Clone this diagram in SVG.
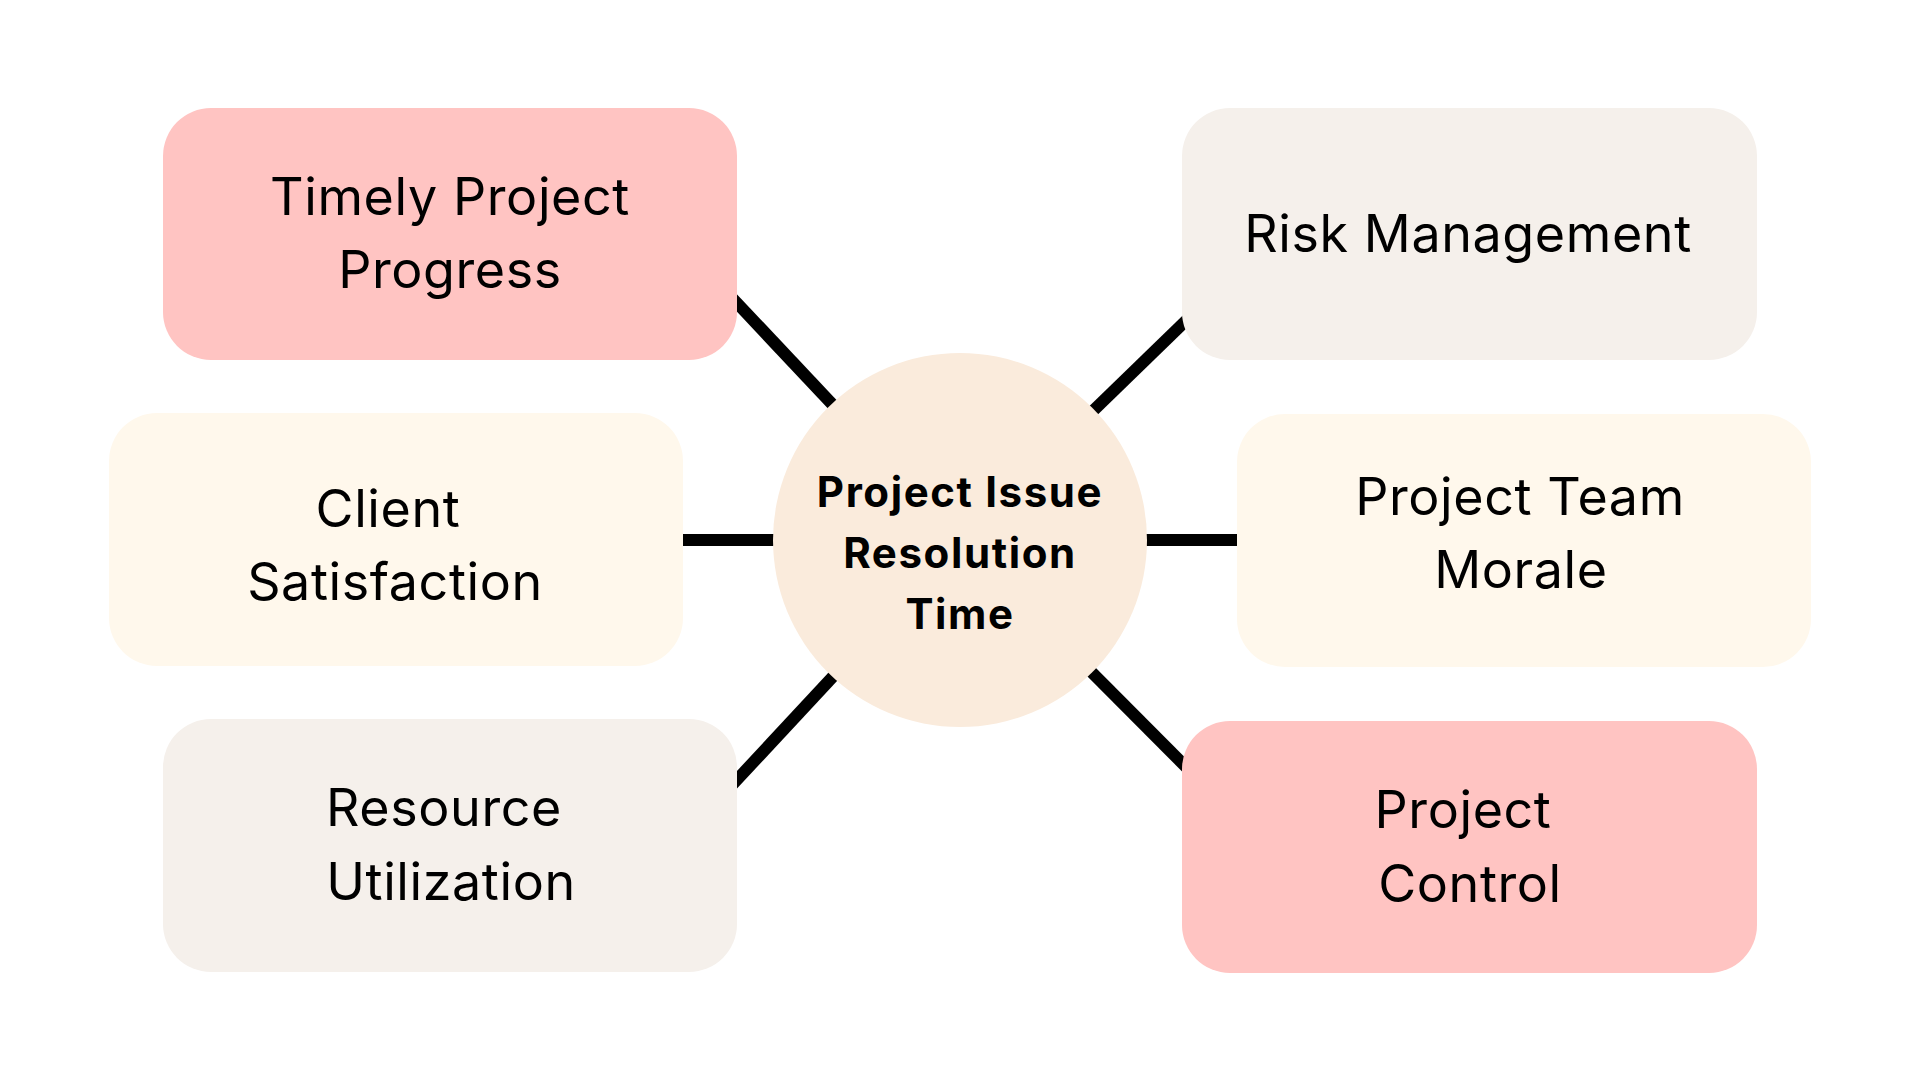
<svg xmlns="http://www.w3.org/2000/svg" width="1920" height="1080" viewBox="0 0 1920 1080">
  <style>
    .box { stroke: none; }
    .pink { fill: #FFC4C2; }
    .grey { fill: #F5F0EB; }
    .cream { fill: #FFF8EC; }
    .hub { fill: #FAEBDC; }
    .lbl { font-family: Inter, "Liberation Sans", sans-serif; font-size: 52px; letter-spacing: 0.6px; fill: #000; text-anchor: middle; }
    .hubl { font-family: Inter, "Liberation Sans", sans-serif; font-size: 42px; letter-spacing: 1.6px; font-weight: 700; fill: #000; text-anchor: middle; }
    .conn { stroke: #000; stroke-width: 12; stroke-linecap: butt; fill: none; }
  </style>
  <rect width="1920" height="1080" fill="#FFFFFF"/>
  <g id="connectors">
    <line class="conn" x1="960" y1="540" x2="720" y2="285"/>
    <line class="conn" x1="960" y1="540" x2="1199" y2="308"/>
    <line class="conn" x1="960" y1="540" x2="640" y2="540"/>
    <line class="conn" x1="960" y1="540" x2="1280" y2="540"/>
    <line class="conn" x1="960" y1="540" x2="720" y2="798"/>
    <line class="conn" x1="960" y1="540" x2="1200" y2="781"/>
  </g>
  <g id="node-timely">
    <rect class="box pink" x="163" y="108" width="574" height="252" rx="48" ry="48"/>
    <text class="lbl" x="450" y="215">Timely Project</text>
    <text class="lbl" x="450" y="288">Progress</text>
  </g>
  <g id="node-risk">
    <rect class="box grey" x="1182" y="108" width="575" height="252" rx="48" ry="48"/>
    <text class="lbl" x="1468" y="252">Risk Management</text>
  </g>
  <g id="node-client">
    <rect class="box cream" x="109" y="413" width="574" height="253" rx="48" ry="48"/>
    <text class="lbl" x="388" y="527">Client</text>
    <text class="lbl" x="395" y="600">Satisfaction</text>
  </g>
  <g id="node-team">
    <rect class="box cream" x="1237" y="414" width="574" height="253" rx="48" ry="48"/>
    <text class="lbl" x="1520" y="515">Project Team</text>
    <text class="lbl" x="1521" y="588">Morale</text>
  </g>
  <g id="node-resource">
    <rect class="box grey" x="163" y="719" width="574" height="253" rx="48" ry="48"/>
    <text class="lbl" x="444" y="826">Resource</text>
    <text class="lbl" x="451" y="900">Utilization</text>
  </g>
  <g id="node-control">
    <rect class="box pink" x="1182" y="721" width="575" height="252" rx="48" ry="48"/>
    <text class="lbl" x="1463" y="828">Project</text>
    <text class="lbl" x="1470" y="902">Control</text>
  </g>
  <g id="node-hub">
    <circle class="hub" cx="960" cy="540" r="187"/>
    <text class="hubl" x="960" y="507">Project Issue</text>
    <text class="hubl" x="960" y="568">Resolution</text>
    <text class="hubl" x="960" y="629">Time</text>
  </g>
</svg>
